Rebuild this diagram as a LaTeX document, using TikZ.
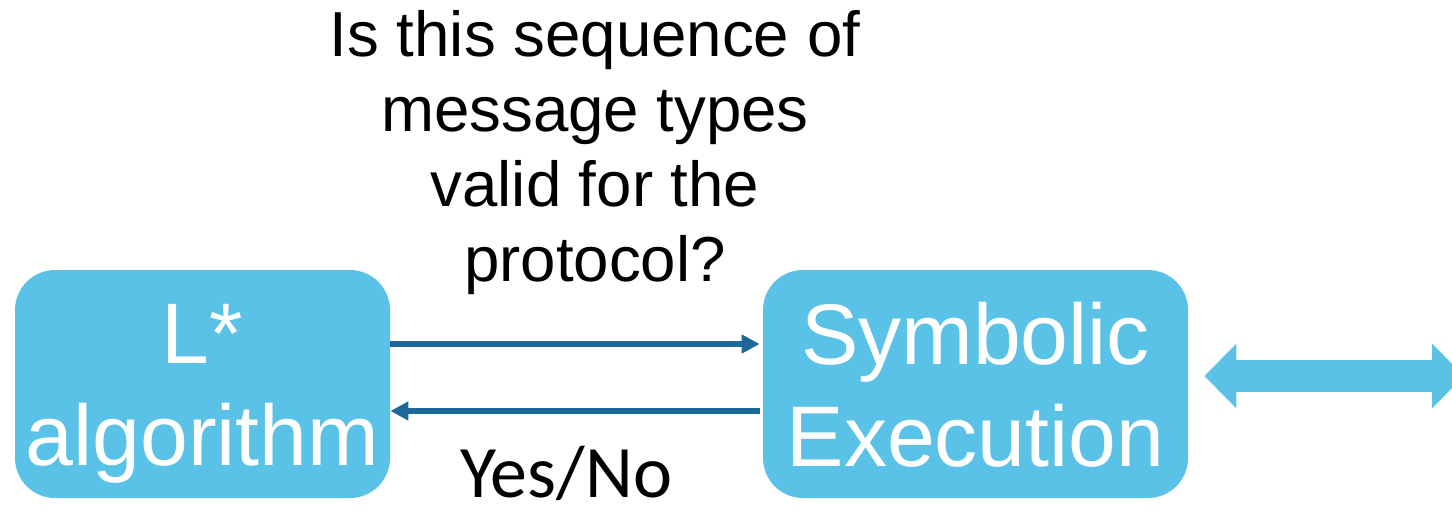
\documentclass[tikz,border=0pt]{standalone}
\usepackage{fontspec}
\setmainfont{Liberation Sans}
\newfontfamily\answerfont{Carlito}
\usetikzlibrary{arrows.meta}
\definecolor{boxblue}{HTML}{5BC2E7}
\definecolor{linkblue}{HTML}{1C6898}

\begin{document}
\begin{tikzpicture}[x=0.5pt,y=-0.5pt,
  stage/.style={fill=boxblue, rounded corners=20pt, minimum height=114pt, inner sep=0pt},
  stagetext/.style={text=white, font=\fontsize{43}{51}\selectfont, align=center, inner sep=0pt},
  link/.style={linkblue, line width=3pt, -{Triangle[length=9pt,width=9pt]}},
  bigarrow/.style={boxblue, line width=16pt, {Triangle[length=16pt,width=31.5pt]}-{Triangle[length=16pt,width=31.5pt]}},
]
\useasboundingbox (0,0) rectangle (1452,511);

% the two stages
\node[stage, minimum width=187.5pt] (lstar) at (202.5,384) {};
\node[stage, minimum width=212.5pt] (symex) at (975.5,384) {};
\node[stagetext] (lstartext) at (202.5,394) {L*\\algorithm};
\node[stagetext] (symextext) at (975.5,384.5) {Symbolic\\Execution};

% query and answer
\draw[link] ([yshift=20pt]lstar.east) -- ([yshift=20pt,xshift=-1.5pt]symex.west);
\draw[link] ([yshift=-13.5pt,xshift=-1.5pt]symex.west) -- ([yshift=-13.5pt]lstar.east);

\node[font=\fontsize{31.8}{37.5}\selectfont, align=center, inner sep=0pt] (query) at (595,153)
  {Is this sequence of\\message types\\valid for the\\protocol?};
\node[font=\answerfont\fontsize{37}{44}\selectfont, anchor=base, inner sep=0pt] (answer) at (566,497) {Yes/No};

% link to the outside
\coordinate (outside) at (1464,376);
\draw[bigarrow] ([xshift=8pt,yshift=4pt]symex.east) -- (outside);
\end{tikzpicture}
\end{document}
